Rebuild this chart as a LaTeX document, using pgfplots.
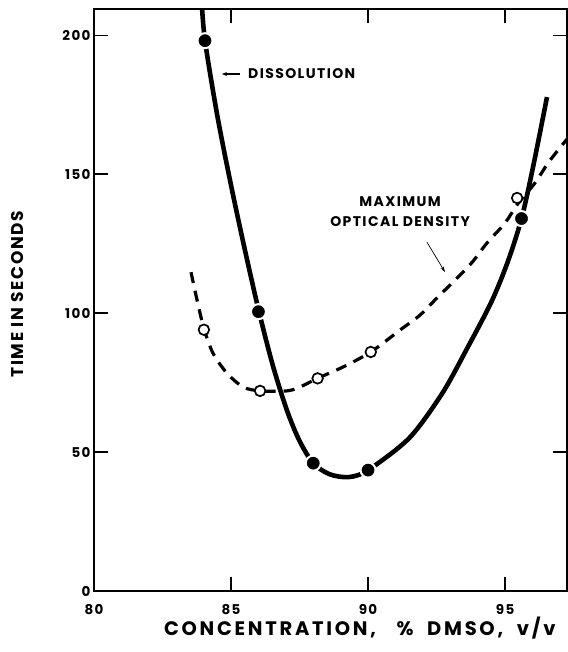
\documentclass[border=0pt]{standalone}
\usepackage{fontspec}
\setmainfont{Poppins}
\newfontfamily\lsfont{Poppins}[LetterSpace=10]
\newfontfamily\lswide{Poppins}[LetterSpace=14]
\usepackage{pgfplots}
\pgfplotsset{compat=1.18}
\usetikzlibrary{arrows.meta}
\begin{document}
\begin{tikzpicture}
\begin{axis}[
  scale only axis, width=473pt, height=582pt,
  xmin=80, xmax=97.26, ymin=0, ymax=209.4,
  xtick={80,85,90,95}, ytick={0,50,100,150,200},
  tick align=inside, major tick length=14pt,
  tick style={black, line width=1.2pt},
  axis line style={line width=1.3pt},
  /pgf/number format/assume math mode=true,
  ticklabel style={font=\lsfont\fontsize{13.5}{15}\selectfont\bfseries},
  xticklabel style={yshift=-10pt},
  xlabel={CONCENTRATION,\ \ \ \%\ \ DMSO,\ \ v/v},
  xlabel style={font=\lswide\fontsize{19.5}{22}\selectfont\bfseries, at={(axis description cs:0.562,-0.064)}, anchor=center},
  ylabel={TIME IN SECONDS},
  ylabel style={font=\lsfont\fontsize{17}{19}\selectfont\bfseries, at={(axis description cs:-0.161,0.51)}, anchor=center},
]
% Maximum optical density (dashed)
\addplot[black, line width=3.2pt, dash pattern=on 11pt off 8pt, smooth] coordinates {
(83.54,114.7) (83.76,104.7) (84.01,94.5) (84.34,85.6) (84.85,78.4) (85.44,73.4) (86.06,72) (87.04,72) (87.52,73.4) (88.15,76.5) (89.09,80.6) (90.1,86) (91.17,93.9) (91.9,99.3) (92.55,105.8) (93.18,111.9) (93.8,118.3) (94.34,125.2) (95.0,132.4) (95.44,139) (96.09,146.8) (96.57,154) (97.08,160.4) (97.3,163)
};
% Dissolution (solid)
\addplot[black, line width=4.6pt, smooth] coordinates {
(83.93,212) (84.05,198) (84.5,171) (85.0,146) (85.5,123) (86.02,100.5) (86.53,81) (87.04,65) (87.5,54) (88.0,46) (88.6,42) (89.3,41) (90.0,43.5) (91.5,55) (92.7,71) (93.6,87) (94.5,104) (95.1,118.5) (95.6,134) (96.02,152.5) (96.53,177.7)
};
% Dissolution points
\addplot[only marks, mark=*, mark size=7.5pt, mark options={fill=black, draw=white, line width=2pt}] coordinates {
(84.05,198) (86.0,100.5) (88.0,46) (90.0,43.5) (95.6,134)
};
% Optical density points
\addplot[only marks, mark=*, mark size=5.3pt, mark options={fill=white, draw=black, line width=1.7pt}] coordinates {
(84.01,94) (86.06,72) (88.16,76.5) (90.1,86) (95.44,141.4)
};
% annotations
\draw[-{Stealth[length=5pt,width=4pt]}, line width=1.1pt] (axis cs:85.33,186) -- (axis cs:84.67,186);
\node[anchor=west, font=\lsfont\fontsize{14}{16}\selectfont\bfseries, inner sep=0pt] at (axis cs:85.62,186) {DISSOLUTION};
\node[align=center, font=\lsfont\fontsize{14}{20}\selectfont\bfseries] at (axis cs:91.17,136.5) {MAXIMUM\\OPTICAL DENSITY};
\draw[-{Stealth[length=6pt,width=3.5pt]}, line width=0.7pt] (axis cs:92.15,125.5) -- (axis cs:92.81,114.7);
\end{axis}
\pgfresetboundingbox
\path[use as bounding box] ([shift={(-94pt,-61pt)}]current axis.south west) rectangle ([shift={(0pt,9pt)}]current axis.north east);
\end{tikzpicture}
\end{document}
